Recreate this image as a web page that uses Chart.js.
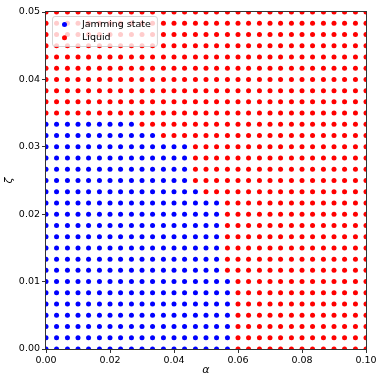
<!DOCTYPE html>
<html>
<head>
<meta charset="utf-8">
<script src="https://cdn.jsdelivr.net/npm/chart.js@4"></script>
<style>
    html, body { margin: 0; padding: 0; background: #fff; }
    canvas { display: block; }
</style>
</head>
<body>
<canvas id="phase-chart" width="383" height="383"></canvas>
<script>
// grid of simulated points
const alphaGrid = [0.0000, 0.0033, 0.0067, 0.0100, 0.0133, 0.0167, 0.0200, 0.0233, 0.0267, 0.0300,
    0.0333, 0.0367, 0.0400, 0.0433, 0.0467, 0.0500, 0.0533, 0.0567, 0.0600, 0.0633,
    0.0667, 0.0700, 0.0733, 0.0767, 0.0800, 0.0833, 0.0867, 0.0900, 0.0933, 0.0967, 0.1000];
const zetaGrid = [0.00000, 0.00167, 0.00333, 0.00500, 0.00667, 0.00833, 0.01000, 0.01167, 0.01333, 0.01500,
    0.01667, 0.01833, 0.02000, 0.02167, 0.02333, 0.02500, 0.02667, 0.02833, 0.03000, 0.03167,
    0.03333, 0.03500, 0.03667, 0.03833, 0.04000, 0.04167, 0.04333, 0.04500, 0.04667, 0.04833, 0.05000];
// largest alpha still jammed in each zeta row (null = whole row liquid)
const jamEdge = [0.0567, 0.0567, 0.0567, 0.0567, 0.0567, 0.0567, 0.0567,
    0.0533, 0.0533, 0.0533, 0.0533, 0.0533, 0.0533, 0.0533,
    0.0467, 0.0433, 0.0433, 0.0433, 0.0433, 0.0333, 0.0267,
    null, null, null, null, null, null, null, null, null, null];
const seriesNames = ['Jamming state', 'Liquid'];
const seriesColors = ['blue', 'red'];
const xTicks = [0, 0.02, 0.04, 0.06, 0.08, 0.10];
const yTicks = [0, 0.01, 0.02, 0.03, 0.04, 0.05];

const jammed = [];
const liquid = [];
zetaGrid.forEach((z, k) => {
    alphaGrid.forEach(a => {
        const edge = jamEdge[k];
        if (edge !== null && a <= edge + 1e-6) {
            jammed.push({x: a, y: z});
        } else {
            liquid.push({x: a, y: z});
        }
    });
});

const tickFont = {family: 'DejaVu Sans', size: 9.5};

const framePlugin = {
    id: 'frame',
    afterDatasetsDraw(chart) {
        const {ctx, chartArea: a} = chart;
        ctx.save();
        ctx.strokeStyle = '#333';
        ctx.lineWidth = 1;
        ctx.strokeRect(Math.round(a.left) - 0.5, Math.round(a.top) - 0.5,
            Math.round(a.right - a.left) + 1, Math.round(a.bottom - a.top) + 1);

        // legend in the upper left corner
        ctx.font = '9.5px "DejaVu Sans"';
        const textX = a.left + 36;
        const w = Math.max(...seriesNames.map(n => ctx.measureText(n).width));
        const bx = a.left + 6, by = a.top + 4, bw = textX - bx + w + 6, bh = 30;
        ctx.beginPath();
        ctx.roundRect(bx + 0.5, by + 0.5, bw, bh, 2.5);
        ctx.fillStyle = 'rgba(255,255,255,0.8)';
        ctx.fill();
        ctx.strokeStyle = 'rgba(204,204,204,0.8)';
        ctx.stroke();
        seriesNames.forEach((name, i) => {
            const cy = by + 8.5 + i * 13.3;
            ctx.beginPath();
            ctx.arc(a.left + 18.5, cy, 2.5, 0, Math.PI * 2);
            ctx.fillStyle = seriesColors[i];
            ctx.fill();
            ctx.fillStyle = '#000';
            ctx.textBaseline = 'middle';
            ctx.fillText(name, textX, cy);
        });
        ctx.restore();
    }
};

new Chart(document.getElementById('phase-chart'), {
    type: 'scatter',
    data: {
        datasets: [
            {label: seriesNames[0], data: jammed, backgroundColor: seriesColors[0], borderWidth: 0, pointRadius: 2.5, clip: 0},
            {label: seriesNames[1], data: liquid, backgroundColor: seriesColors[1], borderWidth: 0, pointRadius: 2.5, clip: 0}
        ]
    },
    options: {
        responsive: false,
        animation: false,
        devicePixelRatio: 1,
        events: [],
        layout: {padding: {left: 0, right: 17, top: 12, bottom: 0}},
        plugins: {legend: {display: false}, tooltip: {enabled: false}},
        scales: {
            x: {
                type: 'linear', min: 0, max: 0.1,
                afterFit: s => { s.height = 34; },
                afterBuildTicks: s => { s.ticks = xTicks.map(v => ({value: v})); },
                ticks: {font: tickFont, color: '#000', padding: 2, maxRotation: 0, callback: v => v.toFixed(2)},
                grid: {drawOnChartArea: false, drawTicks: true, tickLength: 4, tickColor: '#333'},
                border: {display: false},
                title: {display: true, text: 'α', color: '#000', font: {family: 'DejaVu Sans', size: 11, style: 'italic'}, padding: {top: 0, bottom: 6}}
            },
            y: {
                type: 'linear', min: 0, max: 0.05,
                afterFit: s => { s.width = 46; },
                afterBuildTicks: s => { s.ticks = yTicks.map(v => ({value: v})); },
                ticks: {font: tickFont, color: '#000', padding: 2, callback: v => v.toFixed(2)},
                grid: {drawOnChartArea: false, drawTicks: true, tickLength: 4, tickColor: '#333'},
                border: {display: false},
                title: {display: true, text: 'ζ', color: '#000', font: {family: 'DejaVu Sans', size: 11, style: 'italic'}, padding: {top: 3, bottom: 0}}
            }
        }
    },
    plugins: [framePlugin]
});
</script>
</body>
</html>
